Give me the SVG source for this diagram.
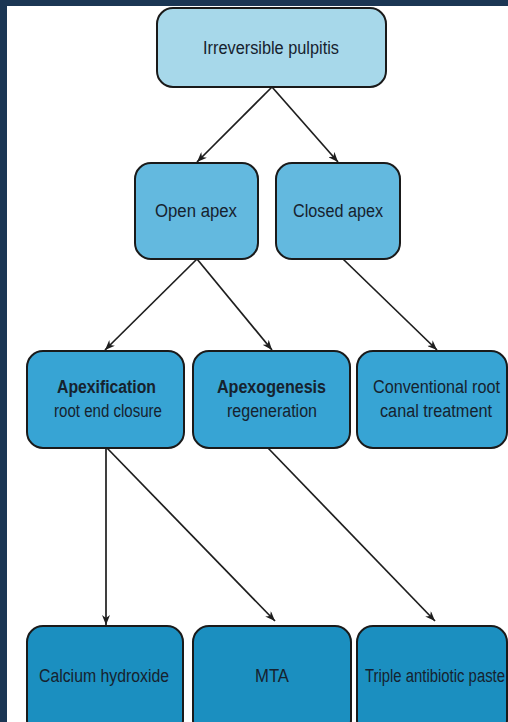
<svg xmlns="http://www.w3.org/2000/svg" width="508" height="722" viewBox="0 0 508 722">
  <style>
    .box { stroke: #1a1a1a; stroke-width: 2; }
    .l1 { fill: #a7d8ea; }
    .l2 { fill: #63b9df; }
    .l3 { fill: #37a4d4; }
    .l4 { fill: #1b8fc0; }
    text { font-family: "Liberation Sans", Arial, sans-serif; font-size: 18px; fill: #16222e; text-anchor: middle; }
    .b { font-weight: bold; }
    .conn line { stroke: #1e1e1e; stroke-width: 1.7; fill: none; }
  </style>
  <defs>
    <marker id="arr" viewBox="0 0 10 8" refX="10" refY="4" markerWidth="10" markerHeight="8" markerUnits="userSpaceOnUse" orient="auto">
      <path d="M0,0 L10,4 L0,8 L3,4 Z" fill="#1e1e1e"/>
    </marker>
  </defs>
  <rect x="0" y="0" width="508" height="722" fill="#1b3654"/>
  <rect x="7" y="6" width="501" height="716" fill="#ffffff"/>

  <g class="conn">
    <line x1="272" y1="87" x2="197" y2="162" marker-end="url(#arr)"/>
    <line x1="272" y1="87" x2="338" y2="162" marker-end="url(#arr)"/>
    <line x1="197" y1="259" x2="105" y2="350" marker-end="url(#arr)"/>
    <line x1="197" y1="259" x2="272" y2="350" marker-end="url(#arr)"/>
    <line x1="343" y1="259" x2="437" y2="350" marker-end="url(#arr)"/>
    <line x1="106" y1="448" x2="106" y2="625" marker-end="url(#arr)"/>
    <line x1="107" y1="448" x2="275" y2="621" marker-end="url(#arr)"/>
    <line x1="268" y1="448" x2="435" y2="621" marker-end="url(#arr)"/>
  </g>

  <g id="irreversible-pulpitis">
    <rect class="box l1" x="157" y="8" width="229" height="79" rx="16"/>
    <text x="271" y="54" textLength="136" lengthAdjust="spacingAndGlyphs">Irreversible pulpitis</text>
  </g>
  <g id="open-apex">
    <rect class="box l2" x="135" y="163" width="123" height="96" rx="16"/>
    <text x="196" y="217" textLength="82" lengthAdjust="spacingAndGlyphs">Open apex</text>
  </g>
  <g id="closed-apex">
    <rect class="box l2" x="276" y="163" width="124" height="96" rx="16"/>
    <text x="338" y="217" textLength="90" lengthAdjust="spacingAndGlyphs">Closed apex</text>
  </g>
  <g id="apexification">
    <rect class="box l3" x="27" y="351" width="157" height="97" rx="16"/>
    <text class="b" x="106.5" y="393" textLength="99" lengthAdjust="spacingAndGlyphs">Apexification</text>
    <text x="108" y="417" textLength="108" lengthAdjust="spacingAndGlyphs">root end closure</text>
  </g>
  <g id="apexogenesis">
    <rect class="box l3" x="193" y="351" width="157" height="97" rx="16"/>
    <text class="b" x="271.5" y="393" textLength="109" lengthAdjust="spacingAndGlyphs">Apexogenesis</text>
    <text x="272" y="417" textLength="90" lengthAdjust="spacingAndGlyphs">regeneration</text>
  </g>
  <g id="conventional-rct">
    <rect class="box l3" x="357" y="351" width="150" height="97" rx="16"/>
    <text x="436.5" y="393" textLength="127" lengthAdjust="spacingAndGlyphs">Conventional root</text>
    <text x="436" y="417" textLength="112" lengthAdjust="spacingAndGlyphs">canal treatment</text>
  </g>
  <g id="calcium-hydroxide">
    <rect class="box l4" x="27" y="626" width="156" height="110" rx="16"/>
    <text x="104" y="682" textLength="130" lengthAdjust="spacingAndGlyphs">Calcium hydroxide</text>
  </g>
  <g id="mta">
    <rect class="box l4" x="193" y="626" width="158" height="110" rx="16"/>
    <text x="272" y="682" textLength="34" lengthAdjust="spacingAndGlyphs">MTA</text>
  </g>
  <g id="triple-antibiotic-paste">
    <rect class="box l4" x="357" y="626" width="150" height="110" rx="16"/>
    <text x="365" y="682" style="text-anchor:start" textLength="140" lengthAdjust="spacingAndGlyphs">Triple antibiotic paste</text>
  </g>
</svg>
